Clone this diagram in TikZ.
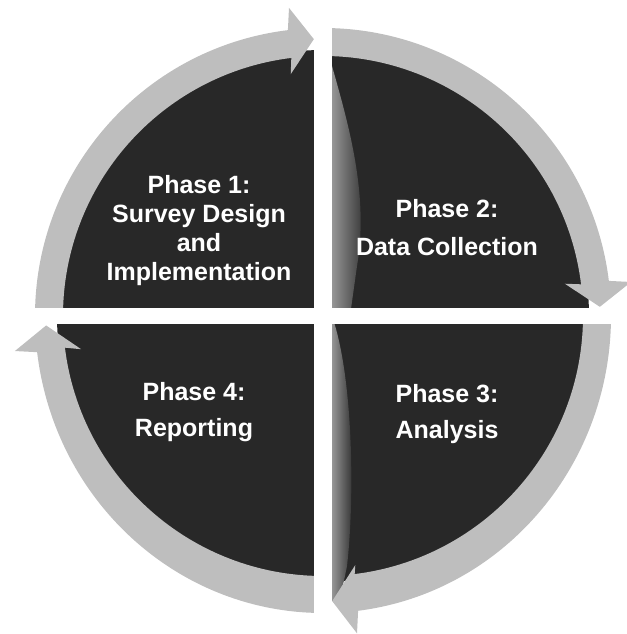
\documentclass[tikz,border=0pt]{standalone}
\usepackage{fontspec}
\setmainfont{Liberation Sans}
\definecolor{ringgray}{RGB}{190,190,190}
\definecolor{darkq}{RGB}{40,40,40}
\definecolor{stripgray}{RGB}{150,150,150}
\tikzset{
  ringarrow/.style={fill=ringgray, draw=none},
  darkpie/.style={fill=darkq},
  gapband/.style={fill=white},
  phasetext/.style={text=white, font=\bfseries\fontsize{25}{29}\selectfont, align=center, inner sep=0pt},
}
\begin{document}
\begin{tikzpicture}[x=1pt,y=1pt]
\useasboundingbox (0,0) rectangle (626,634);
\begin{scope}[shift={(323,318)}]
  % dark disc (four quadrants after the cut)
  \fill[darkpie] (0,0) circle[radius=266];
  % lighter shading strips on the left edge of the right quadrants
  \shade[left color=stripgray, right color=darkq]
    (9,250) .. controls (26,190) and (46,120) .. (34,50)
    .. controls (31,25) .. (27,0) -- (9,0) -- cycle;
  \shade[left color=stripgray, right color=darkq]
    (9,0) .. controls (30,-60) and (32,-180) .. (24,-250)
    .. controls (20,-270) .. (14,-285) -- (9,-285) -- cycle;
  % circular arrows, clockwise, one per quadrant (outer y-radius a bit larger below)
  \foreach \e/\oy/\ky in {90/288/1, 0/288/1, -90/297/1.03, -180/297/1.03} {
    \pgfmathsetmacro\s{\e+90}
    \fill[ringarrow] (\s:288 and \oy) arc[start angle=\s, end angle=\e+7, x radius=288, y radius=\oy]
      -- ({\e+6.3}:310 and {310*\ky}) -- ({\e+1.9}:277 and {277*\ky}) -- ({\e+7.6}:244 and {244*\ky})
      -- ({\e+7}:260) arc[start angle=\e+7, end angle=\s, radius=260] -- cycle;
  }
  % white cross separating the quadrants
  \fill[gapband] (-9,-318) rectangle (9,316);
  \fill[gapband] (-320,-8) rectangle (300,8);
\end{scope}
\node[phasetext] (p1) at (199,403) {Phase 1:\\Survey Design\\and\\Implementation};
\node[phasetext, font=\bfseries\fontsize{25}{38}\selectfont] (p2) at (447,406) {Phase 2:\\Data Collection};
\node[phasetext, font=\bfseries\fontsize{25}{36}\selectfont] (p3) at (447,220) {Phase 3:\\Analysis};
\node[phasetext, font=\bfseries\fontsize{25}{36}\selectfont] (p4) at (194,222) {Phase 4:\\Reporting};
\end{tikzpicture}
\end{document}
